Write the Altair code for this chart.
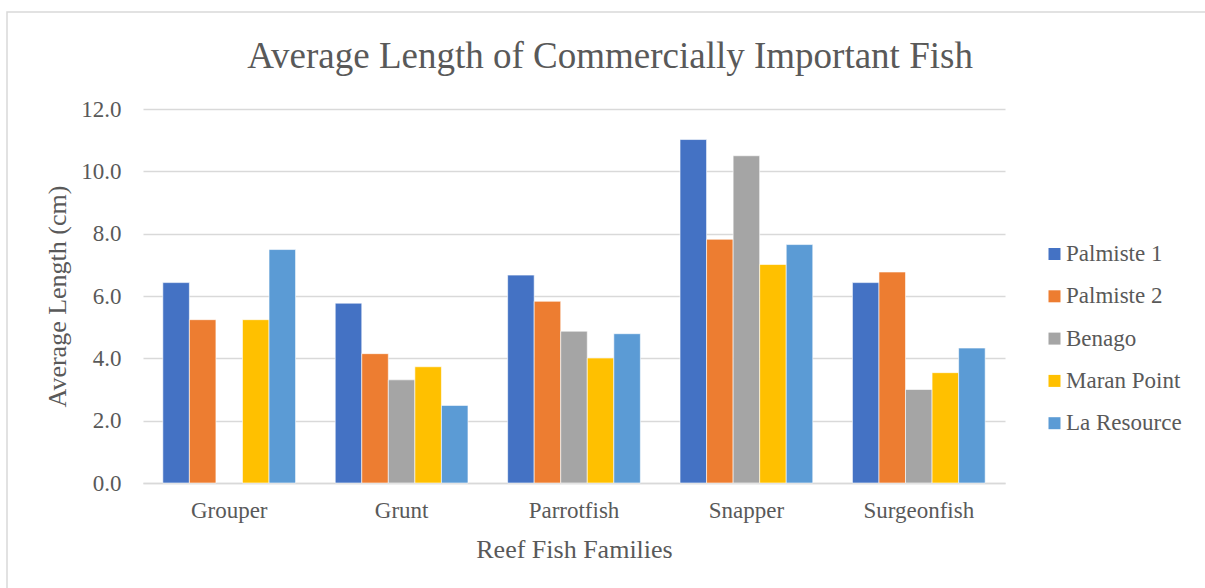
import altair as alt
import pandas as pd

families = ["Grouper", "Grunt", "Parrotfish", "Snapper", "Surgeonfish"]
sites = ["Palmiste 1", "Palmiste 2", "Benago", "Maran Point", "La Resource"]
colors = ["#4472C4", "#ED7D31", "#A5A5A5", "#FFC000", "#5B9BD5"]

palmiste1 = [6.43, 5.77, 6.67, 11.02, 6.43]
palmiste2 = [5.24, 4.15, 5.83, 7.82, 6.77]
benago = [None, 3.31, 4.87, 10.5, 3.0]
maran_point = [5.24, 3.73, 4.01, 7.01, 3.54]
la_resource = [7.49, 2.49, 4.79, 7.65, 4.33]

title_text = "Average Length of Commercially Important Fish"

series = [palmiste1, palmiste2, benago, maran_point, la_resource]
rows = []
for site, vals in zip(sites, series):
    for fam, v in zip(families, vals):
        if v is not None:
            rows.append({"Family": fam, "Site": site, "Length": v})
df = pd.DataFrame(rows)

FONT = "Times New Roman, Liberation Serif, serif"
TXT = "#595959"

bars = alt.Chart(df).mark_bar(stroke="white", strokeWidth=0.6).encode(
    x=alt.X("Family:N", sort=families,
            scale=alt.Scale(paddingInner=0.23, paddingOuter=0.115),
            axis=alt.Axis(title="Reef Fish Families", labelAngle=0, ticks=False,
                          labelFontSize=23, labelPadding=16, titleFontSize=26,
                          titlePadding=14, titleFontWeight="normal",
                          domainColor="#d9d9d9", domainWidth=1.5,
                          labelColor=TXT, titleColor=TXT,
                          labelFont=FONT, titleFont=FONT)),
    xOffset=alt.XOffset("Site:N", sort=sites, scale=alt.Scale(domain=sites, paddingInner=0, paddingOuter=0)),
    y=alt.Y("Length:Q", scale=alt.Scale(domain=[0, 12], nice=False),
            axis=alt.Axis(title="Average Length (cm)", values=[0, 2, 4, 6, 8, 10, 12],
                          format=".1f", ticks=False, domain=False,
                          labelFontSize=23, labelPadding=22, titleFontSize=26,
                          titlePadding=10, titleFontWeight="normal",
                          gridColor="#d9d9d9", gridWidth=1.5,
                          labelColor=TXT, titleColor=TXT,
                          labelFont=FONT, titleFont=FONT)),
    color=alt.Color("Site:N", sort=sites,
                    scale=alt.Scale(domain=sites, range=colors),
                    legend=alt.Legend(title=None, orient="none", legendX=900, legendY=133.5,
                                      symbolType="square", symbolSize=144,
                                      symbolStrokeWidth=0,
                                      labelFontSize=23, labelFont=FONT, labelColor=TXT,
                                      rowPadding=18.3, labelOffset=0)),
)

one = alt.Data(values=[{"a": 1}])

border = alt.Chart(one).mark_rect(
    fill="transparent", stroke="#d9d9d9", strokeWidth=1.5
).encode(
    x=alt.value(-136), y=alt.value(-97), x2=alt.value(1100), y2=alt.value(520)
)

title = alt.Chart(one).mark_text(
    font=FONT, fontSize=37, color=TXT, align="center", baseline="alphabetic"
).encode(
    x=alt.value(467), y=alt.value(-41), text=alt.value(title_text)
)

chart = alt.layer(border, title, bars).properties(
    width=862, height=374,
    autosize=alt.AutoSizeParams(type="none"),
    padding={"left": 143, "top": 109, "right": 200, "bottom": 105},
).configure_view(stroke=None)

chart.save("out.html", embed_options={"renderer": "svg", "actions": False})
